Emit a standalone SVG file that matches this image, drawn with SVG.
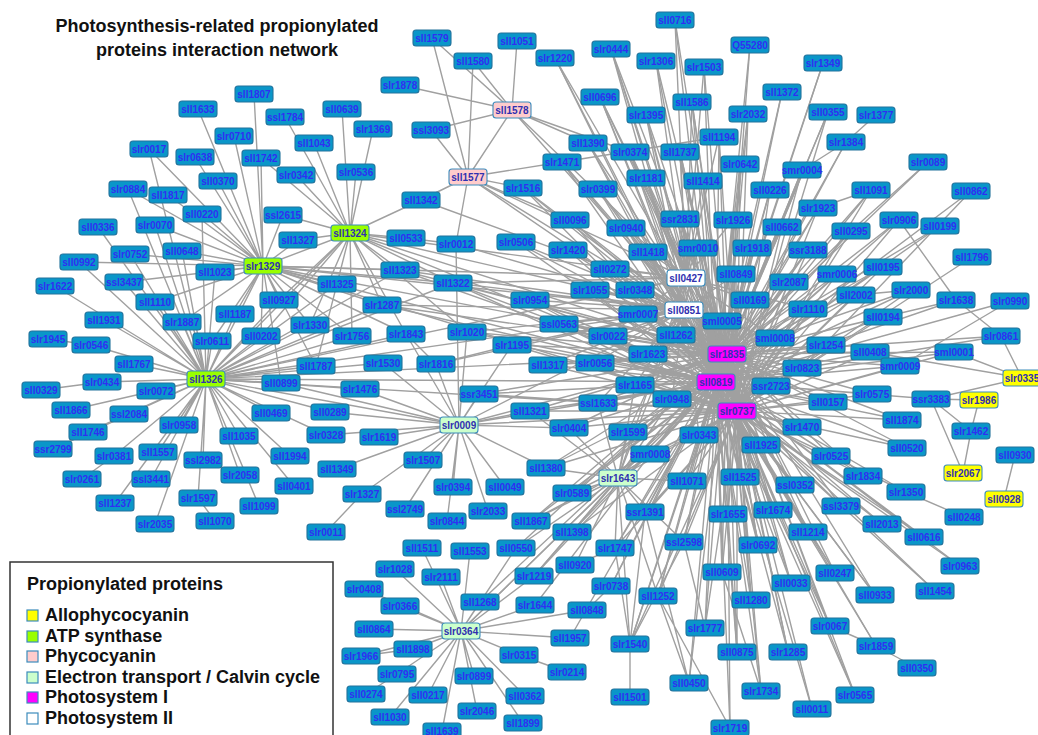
<svg xmlns="http://www.w3.org/2000/svg" width="1038" height="735" viewBox="0 0 1038 735">
<style>
.t{font:bold 18px "Liberation Sans",Arial,sans-serif;fill:#111}
#edges path{fill:none;stroke:#a0a0a0;stroke-width:1.4}
.n{fill:#0a96c9;stroke:#23739c;stroke-width:1.1}
.n text{font:bold 10px "Liberation Sans",Arial,sans-serif;fill:#2f2ff2;stroke:none;text-anchor:middle}
.k{stroke:#3c8cbc}
.k text{fill:#3030b0}
.y{fill:#ffff00}.g{fill:#99ff00}.p{fill:#ffcccc}.e{fill:#ccffcc}.m{fill:#ff00ff}.w{fill:#ffffff}
.lg{stroke:#3c8cbc;stroke-width:1.2}
</style>
<defs><rect id="b" x="-19" y="-8" width="38" height="16" rx="3"/></defs>
<rect width="1038" height="735" fill="#fff"/>
<g id="title" class="t" text-anchor="middle">
<text x="217" y="32">Photosynthesis-related propionylated</text>
<text x="217" y="56">proteins interaction network</text>
</g>
<g id="edges">
<path id="e-slr1835" d="M727 354L675 20M727 354L611 49M727 354L750 45M727 354L555 58M727 354L656 61M727 354L704 67M727 354L600 97M727 354L692 102M727 354L646 115M727 354L748 114M727 354L782 92M727 354L823 63M727 354L828 112M727 354L846 142M727 354L588 143M727 354L719 137M727 354L630 152M727 354L680 152M727 354L562 162M727 354L740 164M727 354L802 170M727 354L646 178M727 354L703 181M727 354L598 189M727 354L770 190M727 354L871 190M727 354L818 208M727 354L570 220M727 354L680 219M727 354L733 220M727 354L899 220M727 354L940 226M727 354L626 228M727 354L782 227M727 354L851 231M727 354L568 250M727 354L648 252M727 354L698 248M727 354L752 248M727 354L808 250M727 354L883 267M727 354L837 274M727 354L610 269M727 354L736 274M727 354L789 282M727 354L856 295M727 354L911 290M727 354L956 300M727 354L530 300M727 354L590 290M727 354L635 290M727 354L750 300M727 354L808 309M727 354L883 317M727 354L638 314M727 354L559 324M727 354L722 321M727 354L608 336M727 354L676 335M727 354L775 338M727 354L1001 336M727 354L512 345M727 354L826 345M727 354L648 354M727 354L870 352M727 354L954 352M727 354L548 365M727 354L595 363M727 354L802 368M727 354L900 366M727 354L635 385M727 354L771 386M727 354L872 394M727 354L672 399M727 354L598 403M727 354L828 402M727 354L530 411M727 354L902 420M727 354L569 428M727 354L628 432M727 354L802 427M727 354L699 435M727 354L761 445M727 354L907 448M727 354L650 454M727 354L831 456M727 354L546 468M727 354L687 481M727 354L740 477M727 354L863 476M727 354L795 485M727 354L572 493M727 354L841 506M727 354L773 510M727 354L645 512M727 354L728 514M727 354L531 521M727 354L572 532M727 354L808 532M727 354L684 542M727 354L758 545M727 354L615 548M727 354L722 572M727 354L835 573M727 354L791 583M727 354L611 586M727 354L875 595M727 354L658 596M727 354L751 600M727 354L830 626M727 354L705 628M727 354L630 644M727 354L737 652M727 354L788 652M727 354L689 683M727 354L761 691M727 354L855 695M727 354L730 728M727 354L523 188M727 354L453 283M727 354L400 270M727 354L382 305M727 354L467 332M727 354L479 394M727 354L928 162M727 354L535 605M727 354L534 576M727 354L516 548M727 354L516 242M727 354L716 382M727 354L737 411M727 354L686 278M727 354L684 310M727 354L206 379M727 354L263 266M727 354L350 233M727 354L468 177M727 354L512 110M727 354L459 425M727 354L618 478"/>
<path id="e-sll0819" d="M716 382L675 20M716 382L611 49M716 382L750 45M716 382L555 58M716 382L656 61M716 382L704 67M716 382L600 97M716 382L692 102M716 382L646 115M716 382L748 114M716 382L782 92M716 382L823 63M716 382L828 112M716 382L846 142M716 382L588 143M716 382L719 137M716 382L630 152M716 382L680 152M716 382L562 162M716 382L740 164M716 382L802 170M716 382L646 178M716 382L703 181M716 382L598 189M716 382L770 190M716 382L871 190M716 382L818 208M716 382L570 220M716 382L680 219M716 382L733 220M716 382L899 220M716 382L940 226M716 382L626 228M716 382L782 227M716 382L851 231M716 382L568 250M716 382L648 252M716 382L698 248M716 382L752 248M716 382L808 250M716 382L883 267M716 382L837 274M716 382L610 269M716 382L736 274M716 382L789 282M716 382L856 295M716 382L911 290M716 382L956 300M716 382L530 300M716 382L590 290M716 382L635 290M716 382L750 300M716 382L808 309M716 382L883 317M716 382L638 314M716 382L559 324M716 382L722 321M716 382L608 336M716 382L676 335M716 382L775 338M716 382L1001 336M716 382L512 345M716 382L826 345M716 382L648 354M716 382L870 352M716 382L954 352M716 382L548 365M716 382L595 363M716 382L802 368M716 382L900 366M716 382L635 385M716 382L771 386M716 382L872 394M716 382L672 399M716 382L598 403M716 382L828 402M716 382L530 411M716 382L902 420M716 382L569 428M716 382L628 432M716 382L802 427M716 382L699 435M716 382L761 445M716 382L907 448M716 382L650 454M716 382L831 456M716 382L546 468M716 382L687 481M716 382L740 477M716 382L863 476M716 382L795 485M716 382L572 493M716 382L841 506M716 382L773 510M716 382L645 512M716 382L728 514M716 382L531 521M716 382L882 524M716 382L572 532M716 382L808 532M716 382L924 537M716 382L684 542M716 382L758 545M716 382L615 548M716 382L960 566M716 382L722 572M716 382L835 573M716 382L791 583M716 382L611 586M716 382L935 591M716 382L875 595M716 382L658 596M716 382L751 600M716 382L830 626M716 382L705 628M716 382L630 644M716 382L876 646M716 382L737 652M716 382L788 652M716 382L689 683M716 382L761 691M716 382L855 695M716 382L812 709M716 382L730 728M716 382L523 188M716 382L453 283M716 382L400 270M716 382L382 305M716 382L467 332M716 382L479 394M716 382L971 191M716 382L1010 301M716 382L931 399M716 382L570 638M716 382L534 576M716 382L516 242M716 382L906 492M716 382L480 602M716 382L737 411M716 382L686 278M716 382L684 310M716 382L206 379M716 382L263 266M716 382L350 233M716 382L459 425M716 382L461 631M716 382L618 478"/>
<path id="e-slr0737" d="M737 411L692 102M737 411L748 114M737 411L828 112M737 411L719 137M737 411L680 152M737 411L740 164M737 411L802 170M737 411L703 181M737 411L770 190M737 411L871 190M737 411L818 208M737 411L680 219M737 411L733 220M737 411L899 220M737 411L782 227M737 411L851 231M737 411L698 248M737 411L752 248M737 411L808 250M737 411L883 267M737 411L837 274M737 411L736 274M737 411L789 282M737 411L856 295M737 411L911 290M737 411L530 300M737 411L590 290M737 411L635 290M737 411L750 300M737 411L808 309M737 411L883 317M737 411L638 314M737 411L559 324M737 411L722 321M737 411L608 336M737 411L676 335M737 411L775 338M737 411L512 345M737 411L826 345M737 411L648 354M737 411L870 352M737 411L954 352M737 411L548 365M737 411L595 363M737 411L802 368M737 411L900 366M737 411L635 385M737 411L771 386M737 411L872 394M737 411L672 399M737 411L598 403M737 411L828 402M737 411L530 411M737 411L902 420M737 411L569 428M737 411L628 432M737 411L802 427M737 411L699 435M737 411L761 445M737 411L907 448M737 411L650 454M737 411L831 456M737 411L546 468M737 411L687 481M737 411L740 477M737 411L863 476M737 411L795 485M737 411L572 493M737 411L841 506M737 411L773 510M737 411L645 512M737 411L728 514M737 411L531 521M737 411L882 524M737 411L572 532M737 411L808 532M737 411L924 537M737 411L684 542M737 411L758 545M737 411L615 548M737 411L960 566M737 411L722 572M737 411L835 573M737 411L791 583M737 411L935 591M737 411L875 595M737 411L658 596M737 411L751 600M737 411L830 626M737 411L705 628M737 411L630 644M737 411L876 646M737 411L737 652M737 411L788 652M737 411L761 691M737 411L855 695M737 411L812 709M737 411L453 283M737 411L479 394M737 411L906 492M737 411L686 278M737 411L684 310M737 411L206 379M737 411L263 266M737 411L459 425M737 411L618 478"/>
<path id="e-sll0427" d="M686 278L675 20M686 278L611 49M686 278L656 61M686 278L704 67M686 278L600 97M686 278L692 102M686 278L646 115M686 278L719 137M686 278L630 152M686 278L680 152M686 278L646 178M686 278L703 181M686 278L680 219M686 278L733 220M686 278L626 228M686 278L648 252M686 278L698 248M686 278L610 269M686 278L635 290M686 278L750 300M686 278L808 309M686 278L638 314M686 278L722 321M686 278L608 336M686 278L676 335M686 278L775 338M686 278L648 354M686 278L771 386M686 278L453 283M686 278L400 270M686 278L684 310M686 278L206 379M686 278L263 266M686 278L350 233M686 278L468 177M686 278L512 110M686 278L618 478"/>
<path id="e-sll0851" d="M684 310L611 49M684 310L555 58M684 310L600 97M684 310L646 115M684 310L588 143M684 310L630 152M684 310L562 162M684 310L646 178M684 310L598 189M684 310L570 220M684 310L626 228M684 310L568 250M684 310L648 252M684 310L698 248M684 310L610 269M684 310L736 274M684 310L530 300M684 310L590 290M684 310L635 290M684 310L638 314M684 310L559 324M684 310L722 321M684 310L608 336M684 310L676 335M684 310L775 338M684 310L512 345M684 310L648 354M684 310L548 365M684 310L595 363M684 310L635 385M684 310L672 399M684 310L598 403M684 310L628 432M684 310L699 435M684 310L523 188M684 310L453 283M684 310L400 270M684 310L382 305M684 310L467 332M684 310L436 364M684 310L516 242M684 310L456 244M684 310L206 379M684 310L263 266M684 310L350 233M684 310L468 177M684 310L459 425M684 310L618 478"/>
<path id="e-sll1326" d="M206 379L79 262M206 379L55 286M206 379L104 320M206 379L91 345M206 379L134 364M206 379L102 382M206 379L156 391M206 379L71 410M206 379L129 414M206 379L88 432M206 379L53 449M206 379L179 425M206 379L114 456M206 379L158 452M206 379L151 479M206 379L203 460M206 379L115 503M206 379L155 524M206 379L198 498M206 379L240 475M206 379L239 436M206 379L259 506M206 379L271 413M206 379L212 341M206 379L182 322M206 379L155 302M206 379L124 282M206 379L130 254M206 379L182 251M206 379L235 314M206 379L215 272M206 379L261 336M206 379L279 300M206 379L310 325M206 379L281 383M206 379L316 366M206 379L290 456M206 379L326 435M206 379L330 412M206 379L360 389M206 379L352 336M206 379L337 284M206 379L400 270M206 379L453 283M206 379L382 305M206 379L98 227M206 379L155 225M206 379L202 214M206 379L149 149M206 379L128 189M206 379L263 266M206 379L350 233M206 379L459 425M206 379L383 363M206 379L406 334M206 379L294 486M48 339L91 345M41 390L102 382M82 479L114 456M215 521L198 498"/>
<path id="e-slr1329" d="M263 266L198 109M263 266L254 94M263 266L234 136M263 266L149 149M263 266L195 157M263 266L261 158M263 266L218 181M263 266L128 189M263 266L168 195M263 266L202 214M263 266L155 225M263 266L215 272M263 266L182 251M263 266L130 254M263 266L155 302M263 266L79 262M263 266L235 314M263 266L279 300M263 266L261 336M263 266L298 240M263 266L283 215M263 266L337 284M263 266L400 270M263 266L453 283M263 266L310 325M263 266L382 305M263 266L316 366M263 266L281 383M263 266L212 341M263 266L182 322M263 266L124 282M263 266L350 233M263 266L352 336M263 266L406 334"/>
<path id="e-sll1324" d="M350 233L285 117M350 233L314 143M350 233L342 109M350 233L373 129M350 233L356 172M350 233L296 175M350 233L283 215M350 233L421 200M350 233L298 240M350 233L261 158M350 233L337 284M350 233L400 270M350 233L453 283M350 233L382 305M350 233L310 325M350 233L352 336M350 233L279 300M350 233L261 336M350 233L316 366M350 233L406 238M350 233L406 334M350 233L467 332"/>
<path id="e-phyco" d="M468 177L432 38M468 177L473 61M468 177L431 130M468 177L512 110M468 177L421 200M468 177L456 244M468 177L523 188M468 177L562 162M468 177L570 220M512 110L432 38M512 110L473 61M512 110L517 41M512 110L400 85M512 110L431 130M512 110L588 143M512 110L630 152M406 238L456 244M421 200L610 269M456 244L459 425"/>
<path id="e-slr0009" d="M459 425L383 363M459 425L360 389M459 425L330 412M459 425L379 437M459 425L423 460M459 425L453 487M459 425L505 487M459 425L467 332M459 425L479 394M459 425L337 469M459 425L362 494M459 425L405 509M459 425L447 521M459 425L488 511M459 425L281 383M459 425L406 334M459 425L530 411M459 425L512 345M459 425L569 428M459 425L546 468M459 425L326 435M459 425L436 364M326 532L362 494M436 364L406 334M436 364L512 345"/>
<path id="e-slr0364" d="M461 631L422 548M461 631L470 551M461 631L516 548M461 631L395 569M461 631L441 577M461 631L364 589M461 631L400 606M461 631L480 602M461 631L374 629M461 631L361 656M461 631L413 649M461 631L397 674M461 631L474 676M461 631L428 695M461 631L477 711M461 631L390 717M461 631L442 731M461 631L519 655M461 631L525 696M461 631L523 723M461 631L534 576M461 631L535 605M461 631L570 638M461 631L587 610M461 631L618 478M361 656L413 649M366 694L397 674M519 655L567 672M587 610L611 586"/>
<path id="e-slr1643" d="M618 478L546 468M618 478L531 521M618 478L572 493M618 478L572 532M618 478L569 428M618 478L628 432M618 478L650 454M618 478L645 512M618 478L615 548M618 478L575 565M618 478L516 548M618 478L534 576M618 478L598 403M618 478L635 385M618 478L530 411M618 478L684 542M618 478L658 596M618 478L630 644M618 478L672 399M618 478L687 481"/>
<path id="e-misc" d="M575 565L615 548M615 548L630 644M630 697L630 644M630 644L645 512M630 644L684 542M689 683L658 596M689 683L645 512M730 728L658 596M705 628L684 542M737 652L728 514M761 691L722 572M876 115L846 142M846 142L802 170M928 162L851 231M971 191L802 368M871 190L818 208M899 220L956 300M956 300L1001 336M1001 336L1022 378M954 352L1022 378M1022 378L870 352M931 399L1022 378M931 399L979 400M931 399L971 431M931 399L963 473M979 400L971 431M971 431L963 473M1015 455L1004 499M906 492L964 517M1010 301L900 366M972 257L802 368M911 290L856 295M830 626L876 646M876 646L917 668M562 162L719 137"/>
</g>
<g id="nodes">
<g id="n-sll1633" class="n" transform="translate(198 109)"><use href="#b"/><text y="3.5">sll1633</text></g>
<g id="n-sll1807" class="n" transform="translate(254 94)"><use href="#b"/><text y="3.5">sll1807</text></g>
<g id="n-slr0710" class="n" transform="translate(234 136)"><use href="#b"/><text y="3.5">slr0710</text></g>
<g id="n-slr0017" class="n" transform="translate(149 149)"><use href="#b"/><text y="3.5">slr0017</text></g>
<g id="n-slr0638" class="n" transform="translate(195 157)"><use href="#b"/><text y="3.5">slr0638</text></g>
<g id="n-sll1742" class="n" transform="translate(261 158)"><use href="#b"/><text y="3.5">sll1742</text></g>
<g id="n-sll0370" class="n" transform="translate(218 181)"><use href="#b"/><text y="3.5">sll0370</text></g>
<g id="n-slr0884" class="n" transform="translate(128 189)"><use href="#b"/><text y="3.5">slr0884</text></g>
<g id="n-sll1817" class="n" transform="translate(168 195)"><use href="#b"/><text y="3.5">sll1817</text></g>
<g id="n-sll0220" class="n" transform="translate(202 214)"><use href="#b"/><text y="3.5">sll0220</text></g>
<g id="n-sll0336" class="n" transform="translate(98 227)"><use href="#b"/><text y="3.5">sll0336</text></g>
<g id="n-slr0070" class="n" transform="translate(155 225)"><use href="#b"/><text y="3.5">slr0070</text></g>
<g id="n-ssl1784" class="n" transform="translate(285 117)"><use href="#b"/><text y="3.5">ssl1784</text></g>
<g id="n-sll0639" class="n" transform="translate(342 109)"><use href="#b"/><text y="3.5">sll0639</text></g>
<g id="n-slr1369" class="n" transform="translate(373 129)"><use href="#b"/><text y="3.5">slr1369</text></g>
<g id="n-sll1043" class="n" transform="translate(314 143)"><use href="#b"/><text y="3.5">sll1043</text></g>
<g id="n-slr0342" class="n" transform="translate(296 175)"><use href="#b"/><text y="3.5">slr0342</text></g>
<g id="n-slr0536" class="n" transform="translate(356 172)"><use href="#b"/><text y="3.5">slr0536</text></g>
<g id="n-ssl2615" class="n" transform="translate(283 215)"><use href="#b"/><text y="3.5">ssl2615</text></g>
<g id="n-sll1327" class="n" transform="translate(298 240)"><use href="#b"/><text y="3.5">sll1327</text></g>
<g id="n-sll1324" class="n k g" transform="translate(350 233)"><use href="#b"/><text y="3.5">sll1324</text></g>
<g id="n-slr1329" class="n k g" transform="translate(263 266)"><use href="#b"/><text y="3.5">slr1329</text></g>
<g id="n-slr0752" class="n" transform="translate(130 254)"><use href="#b"/><text y="3.5">slr0752</text></g>
<g id="n-sll0648" class="n" transform="translate(182 251)"><use href="#b"/><text y="3.5">sll0648</text></g>
<g id="n-sll0992" class="n" transform="translate(79 262)"><use href="#b"/><text y="3.5">sll0992</text></g>
<g id="n-ssl3437" class="n" transform="translate(124 282)"><use href="#b"/><text y="3.5">ssl3437</text></g>
<g id="n-sll1023" class="n" transform="translate(215 272)"><use href="#b"/><text y="3.5">sll1023</text></g>
<g id="n-slr1622" class="n" transform="translate(55 286)"><use href="#b"/><text y="3.5">slr1622</text></g>
<g id="n-sll1110" class="n" transform="translate(155 302)"><use href="#b"/><text y="3.5">sll1110</text></g>
<g id="n-sll1931" class="n" transform="translate(104 320)"><use href="#b"/><text y="3.5">sll1931</text></g>
<g id="n-slr1887" class="n" transform="translate(182 322)"><use href="#b"/><text y="3.5">slr1887</text></g>
<g id="n-sll1187" class="n" transform="translate(235 314)"><use href="#b"/><text y="3.5">sll1187</text></g>
<g id="n-slr1945" class="n" transform="translate(48 339)"><use href="#b"/><text y="3.5">slr1945</text></g>
<g id="n-slr0546" class="n" transform="translate(91 345)"><use href="#b"/><text y="3.5">slr0546</text></g>
<g id="n-slr0611" class="n" transform="translate(212 341)"><use href="#b"/><text y="3.5">slr0611</text></g>
<g id="n-sll0202" class="n" transform="translate(261 336)"><use href="#b"/><text y="3.5">sll0202</text></g>
<g id="n-sll1767" class="n" transform="translate(134 364)"><use href="#b"/><text y="3.5">sll1767</text></g>
<g id="n-sll1326" class="n k g" transform="translate(206 379)"><use href="#b"/><text y="3.5">sll1326</text></g>
<g id="n-slr0434" class="n" transform="translate(102 382)"><use href="#b"/><text y="3.5">slr0434</text></g>
<g id="n-sll0329" class="n" transform="translate(41 390)"><use href="#b"/><text y="3.5">sll0329</text></g>
<g id="n-slr0072" class="n" transform="translate(156 391)"><use href="#b"/><text y="3.5">slr0072</text></g>
<g id="n-sll1866" class="n" transform="translate(71 410)"><use href="#b"/><text y="3.5">sll1866</text></g>
<g id="n-ssl2084" class="n" transform="translate(129 414)"><use href="#b"/><text y="3.5">ssl2084</text></g>
<g id="n-sll0469" class="n" transform="translate(271 413)"><use href="#b"/><text y="3.5">sll0469</text></g>
<g id="n-sll1746" class="n" transform="translate(88 432)"><use href="#b"/><text y="3.5">sll1746</text></g>
<g id="n-slr0958" class="n" transform="translate(179 425)"><use href="#b"/><text y="3.5">slr0958</text></g>
<g id="n-sll1035" class="n" transform="translate(239 436)"><use href="#b"/><text y="3.5">sll1035</text></g>
<g id="n-ssr2799" class="n" transform="translate(53 449)"><use href="#b"/><text y="3.5">ssr2799</text></g>
<g id="n-slr0381" class="n" transform="translate(114 456)"><use href="#b"/><text y="3.5">slr0381</text></g>
<g id="n-sll1557" class="n" transform="translate(158 452)"><use href="#b"/><text y="3.5">sll1557</text></g>
<g id="n-ssl2982" class="n" transform="translate(203 460)"><use href="#b"/><text y="3.5">ssl2982</text></g>
<g id="n-slr2058" class="n" transform="translate(240 475)"><use href="#b"/><text y="3.5">slr2058</text></g>
<g id="n-slr0261" class="n" transform="translate(82 479)"><use href="#b"/><text y="3.5">slr0261</text></g>
<g id="n-ssl3441" class="n" transform="translate(151 479)"><use href="#b"/><text y="3.5">ssl3441</text></g>
<g id="n-sll1237" class="n" transform="translate(115 503)"><use href="#b"/><text y="3.5">sll1237</text></g>
<g id="n-slr2035" class="n" transform="translate(155 524)"><use href="#b"/><text y="3.5">slr2035</text></g>
<g id="n-slr1597" class="n" transform="translate(198 498)"><use href="#b"/><text y="3.5">slr1597</text></g>
<g id="n-sll1070" class="n" transform="translate(215 521)"><use href="#b"/><text y="3.5">sll1070</text></g>
<g id="n-sll1099" class="n" transform="translate(259 506)"><use href="#b"/><text y="3.5">sll1099</text></g>
<g id="n-sll0927" class="n" transform="translate(279 300)"><use href="#b"/><text y="3.5">sll0927</text></g>
<g id="n-sll1325" class="n" transform="translate(337 284)"><use href="#b"/><text y="3.5">sll1325</text></g>
<g id="n-sll1323" class="n" transform="translate(400 270)"><use href="#b"/><text y="3.5">sll1323</text></g>
<g id="n-sll1322" class="n" transform="translate(453 283)"><use href="#b"/><text y="3.5">sll1322</text></g>
<g id="n-slr1287" class="n" transform="translate(382 305)"><use href="#b"/><text y="3.5">slr1287</text></g>
<g id="n-slr1330" class="n" transform="translate(310 325)"><use href="#b"/><text y="3.5">slr1330</text></g>
<g id="n-slr1756" class="n" transform="translate(352 336)"><use href="#b"/><text y="3.5">slr1756</text></g>
<g id="n-slr1843" class="n" transform="translate(406 334)"><use href="#b"/><text y="3.5">slr1843</text></g>
<g id="n-slr1020" class="n" transform="translate(467 332)"><use href="#b"/><text y="3.5">slr1020</text></g>
<g id="n-sll1787" class="n" transform="translate(316 366)"><use href="#b"/><text y="3.5">sll1787</text></g>
<g id="n-slr1530" class="n" transform="translate(383 363)"><use href="#b"/><text y="3.5">slr1530</text></g>
<g id="n-slr1816" class="n" transform="translate(436 364)"><use href="#b"/><text y="3.5">slr1816</text></g>
<g id="n-sll0899" class="n" transform="translate(281 383)"><use href="#b"/><text y="3.5">sll0899</text></g>
<g id="n-slr1476" class="n" transform="translate(360 389)"><use href="#b"/><text y="3.5">slr1476</text></g>
<g id="n-ssr3451" class="n" transform="translate(479 394)"><use href="#b"/><text y="3.5">ssr3451</text></g>
<g id="n-sll0289" class="n" transform="translate(330 412)"><use href="#b"/><text y="3.5">sll0289</text></g>
<g id="n-slr0009" class="n k e" transform="translate(459 425)"><use href="#b"/><text y="3.5">slr0009</text></g>
<g id="n-slr0328" class="n" transform="translate(326 435)"><use href="#b"/><text y="3.5">slr0328</text></g>
<g id="n-slr1619" class="n" transform="translate(379 437)"><use href="#b"/><text y="3.5">slr1619</text></g>
<g id="n-sll1994" class="n" transform="translate(290 456)"><use href="#b"/><text y="3.5">sll1994</text></g>
<g id="n-slr1507" class="n" transform="translate(423 460)"><use href="#b"/><text y="3.5">slr1507</text></g>
<g id="n-sll1349" class="n" transform="translate(337 469)"><use href="#b"/><text y="3.5">sll1349</text></g>
<g id="n-sll0401" class="n" transform="translate(294 486)"><use href="#b"/><text y="3.5">sll0401</text></g>
<g id="n-slr1327" class="n" transform="translate(362 494)"><use href="#b"/><text y="3.5">slr1327</text></g>
<g id="n-slr0394" class="n" transform="translate(453 487)"><use href="#b"/><text y="3.5">slr0394</text></g>
<g id="n-sll0049" class="n" transform="translate(505 487)"><use href="#b"/><text y="3.5">sll0049</text></g>
<g id="n-ssl2749" class="n" transform="translate(405 509)"><use href="#b"/><text y="3.5">ssl2749</text></g>
<g id="n-slr0844" class="n" transform="translate(447 521)"><use href="#b"/><text y="3.5">slr0844</text></g>
<g id="n-slr2033" class="n" transform="translate(488 511)"><use href="#b"/><text y="3.5">slr2033</text></g>
<g id="n-slr0011" class="n" transform="translate(326 532)"><use href="#b"/><text y="3.5">slr0011</text></g>
<g id="n-sll1579" class="n" transform="translate(432 38)"><use href="#b"/><text y="3.5">sll1579</text></g>
<g id="n-sll1051" class="n" transform="translate(517 41)"><use href="#b"/><text y="3.5">sll1051</text></g>
<g id="n-sll1580" class="n" transform="translate(473 61)"><use href="#b"/><text y="3.5">sll1580</text></g>
<g id="n-slr1878" class="n" transform="translate(400 85)"><use href="#b"/><text y="3.5">slr1878</text></g>
<g id="n-sll1578" class="n k p" transform="translate(512 110)"><use href="#b"/><text y="3.5">sll1578</text></g>
<g id="n-ssl3093" class="n" transform="translate(431 130)"><use href="#b"/><text y="3.5">ssl3093</text></g>
<g id="n-sll1577" class="n k p" transform="translate(468 177)"><use href="#b"/><text y="3.5">sll1577</text></g>
<g id="n-sll1342" class="n" transform="translate(421 200)"><use href="#b"/><text y="3.5">sll1342</text></g>
<g id="n-sll0533" class="n" transform="translate(406 238)"><use href="#b"/><text y="3.5">sll0533</text></g>
<g id="n-slr0012" class="n" transform="translate(456 244)"><use href="#b"/><text y="3.5">slr0012</text></g>
<g id="n-slr0506" class="n" transform="translate(516 242)"><use href="#b"/><text y="3.5">slr0506</text></g>
<g id="n-slr1516" class="n" transform="translate(523 188)"><use href="#b"/><text y="3.5">slr1516</text></g>
<g id="n-sll0716" class="n" transform="translate(675 20)"><use href="#b"/><text y="3.5">sll0716</text></g>
<g id="n-slr0444" class="n" transform="translate(611 49)"><use href="#b"/><text y="3.5">slr0444</text></g>
<g id="n-Q55280" class="n" transform="translate(750 45)"><use href="#b"/><text y="3.5">Q55280</text></g>
<g id="n-slr1220" class="n" transform="translate(555 58)"><use href="#b"/><text y="3.5">slr1220</text></g>
<g id="n-slr1306" class="n" transform="translate(656 61)"><use href="#b"/><text y="3.5">slr1306</text></g>
<g id="n-slr1503" class="n" transform="translate(704 67)"><use href="#b"/><text y="3.5">slr1503</text></g>
<g id="n-sll0696" class="n" transform="translate(600 97)"><use href="#b"/><text y="3.5">sll0696</text></g>
<g id="n-sll1586" class="n" transform="translate(692 102)"><use href="#b"/><text y="3.5">sll1586</text></g>
<g id="n-slr1395" class="n" transform="translate(646 115)"><use href="#b"/><text y="3.5">slr1395</text></g>
<g id="n-slr2032" class="n" transform="translate(748 114)"><use href="#b"/><text y="3.5">slr2032</text></g>
<g id="n-sll1372" class="n" transform="translate(782 92)"><use href="#b"/><text y="3.5">sll1372</text></g>
<g id="n-slr1349" class="n" transform="translate(823 63)"><use href="#b"/><text y="3.5">slr1349</text></g>
<g id="n-sll0355" class="n" transform="translate(828 112)"><use href="#b"/><text y="3.5">sll0355</text></g>
<g id="n-slr1377" class="n" transform="translate(876 115)"><use href="#b"/><text y="3.5">slr1377</text></g>
<g id="n-slr1384" class="n" transform="translate(846 142)"><use href="#b"/><text y="3.5">slr1384</text></g>
<g id="n-sll1390" class="n" transform="translate(588 143)"><use href="#b"/><text y="3.5">sll1390</text></g>
<g id="n-sll1194" class="n" transform="translate(719 137)"><use href="#b"/><text y="3.5">sll1194</text></g>
<g id="n-slr0374" class="n" transform="translate(630 152)"><use href="#b"/><text y="3.5">slr0374</text></g>
<g id="n-sll1737" class="n" transform="translate(680 152)"><use href="#b"/><text y="3.5">sll1737</text></g>
<g id="n-slr1471" class="n" transform="translate(562 162)"><use href="#b"/><text y="3.5">slr1471</text></g>
<g id="n-slr0642" class="n" transform="translate(740 164)"><use href="#b"/><text y="3.5">slr0642</text></g>
<g id="n-smr0004" class="n" transform="translate(802 170)"><use href="#b"/><text y="3.5">smr0004</text></g>
<g id="n-slr0089" class="n" transform="translate(928 162)"><use href="#b"/><text y="3.5">slr0089</text></g>
<g id="n-slr1181" class="n" transform="translate(646 178)"><use href="#b"/><text y="3.5">slr1181</text></g>
<g id="n-sll1414" class="n" transform="translate(703 181)"><use href="#b"/><text y="3.5">sll1414</text></g>
<g id="n-slr0399" class="n" transform="translate(598 189)"><use href="#b"/><text y="3.5">slr0399</text></g>
<g id="n-sll0226" class="n" transform="translate(770 190)"><use href="#b"/><text y="3.5">sll0226</text></g>
<g id="n-sll1091" class="n" transform="translate(871 190)"><use href="#b"/><text y="3.5">sll1091</text></g>
<g id="n-sll0862" class="n" transform="translate(971 191)"><use href="#b"/><text y="3.5">sll0862</text></g>
<g id="n-slr1923" class="n" transform="translate(818 208)"><use href="#b"/><text y="3.5">slr1923</text></g>
<g id="n-sll0096" class="n" transform="translate(570 220)"><use href="#b"/><text y="3.5">sll0096</text></g>
<g id="n-ssr2831" class="n" transform="translate(680 219)"><use href="#b"/><text y="3.5">ssr2831</text></g>
<g id="n-slr1926" class="n" transform="translate(733 220)"><use href="#b"/><text y="3.5">slr1926</text></g>
<g id="n-slr0906" class="n" transform="translate(899 220)"><use href="#b"/><text y="3.5">slr0906</text></g>
<g id="n-sll0199" class="n" transform="translate(940 226)"><use href="#b"/><text y="3.5">sll0199</text></g>
<g id="n-slr0940" class="n" transform="translate(626 228)"><use href="#b"/><text y="3.5">slr0940</text></g>
<g id="n-sll0662" class="n" transform="translate(782 227)"><use href="#b"/><text y="3.5">sll0662</text></g>
<g id="n-sll0295" class="n" transform="translate(851 231)"><use href="#b"/><text y="3.5">sll0295</text></g>
<g id="n-slr1420" class="n" transform="translate(568 250)"><use href="#b"/><text y="3.5">slr1420</text></g>
<g id="n-sll1418" class="n" transform="translate(648 252)"><use href="#b"/><text y="3.5">sll1418</text></g>
<g id="n-smr0010" class="n" transform="translate(698 248)"><use href="#b"/><text y="3.5">smr0010</text></g>
<g id="n-slr1918" class="n" transform="translate(752 248)"><use href="#b"/><text y="3.5">slr1918</text></g>
<g id="n-ssr3188" class="n" transform="translate(808 250)"><use href="#b"/><text y="3.5">ssr3188</text></g>
<g id="n-sll1796" class="n" transform="translate(972 257)"><use href="#b"/><text y="3.5">sll1796</text></g>
<g id="n-sll0195" class="n" transform="translate(883 267)"><use href="#b"/><text y="3.5">sll0195</text></g>
<g id="n-smr0006" class="n" transform="translate(837 274)"><use href="#b"/><text y="3.5">smr0006</text></g>
<g id="n-sll0272" class="n" transform="translate(610 269)"><use href="#b"/><text y="3.5">sll0272</text></g>
<g id="n-sll0849" class="n" transform="translate(736 274)"><use href="#b"/><text y="3.5">sll0849</text></g>
<g id="n-slr2087" class="n" transform="translate(789 282)"><use href="#b"/><text y="3.5">slr2087</text></g>
<g id="n-sll2002" class="n" transform="translate(856 295)"><use href="#b"/><text y="3.5">sll2002</text></g>
<g id="n-slr2000" class="n" transform="translate(911 290)"><use href="#b"/><text y="3.5">slr2000</text></g>
<g id="n-slr1638" class="n" transform="translate(956 300)"><use href="#b"/><text y="3.5">slr1638</text></g>
<g id="n-slr0990" class="n" transform="translate(1010 301)"><use href="#b"/><text y="3.5">slr0990</text></g>
<g id="n-slr0954" class="n" transform="translate(530 300)"><use href="#b"/><text y="3.5">slr0954</text></g>
<g id="n-slr1055" class="n" transform="translate(590 290)"><use href="#b"/><text y="3.5">slr1055</text></g>
<g id="n-slr0348" class="n" transform="translate(635 290)"><use href="#b"/><text y="3.5">slr0348</text></g>
<g id="n-sll0169" class="n" transform="translate(750 300)"><use href="#b"/><text y="3.5">sll0169</text></g>
<g id="n-slr1110" class="n" transform="translate(808 309)"><use href="#b"/><text y="3.5">slr1110</text></g>
<g id="n-sll0194" class="n" transform="translate(883 317)"><use href="#b"/><text y="3.5">sll0194</text></g>
<g id="n-smr0007" class="n" transform="translate(638 314)"><use href="#b"/><text y="3.5">smr0007</text></g>
<g id="n-ssl0563" class="n" transform="translate(559 324)"><use href="#b"/><text y="3.5">ssl0563</text></g>
<g id="n-sml0005" class="n" transform="translate(722 321)"><use href="#b"/><text y="3.5">sml0005</text></g>
<g id="n-slr0022" class="n" transform="translate(608 336)"><use href="#b"/><text y="3.5">slr0022</text></g>
<g id="n-sll1262" class="n" transform="translate(676 335)"><use href="#b"/><text y="3.5">sll1262</text></g>
<g id="n-sml0008" class="n" transform="translate(775 338)"><use href="#b"/><text y="3.5">sml0008</text></g>
<g id="n-slr0861" class="n" transform="translate(1001 336)"><use href="#b"/><text y="3.5">slr0861</text></g>
<g id="n-slr1195" class="n" transform="translate(512 345)"><use href="#b"/><text y="3.5">slr1195</text></g>
<g id="n-slr1254" class="n" transform="translate(826 345)"><use href="#b"/><text y="3.5">slr1254</text></g>
<g id="n-slr1623" class="n" transform="translate(648 354)"><use href="#b"/><text y="3.5">slr1623</text></g>
<g id="n-sll0408" class="n" transform="translate(870 352)"><use href="#b"/><text y="3.5">sll0408</text></g>
<g id="n-sml0001" class="n" transform="translate(954 352)"><use href="#b"/><text y="3.5">sml0001</text></g>
<g id="n-sll1317" class="n" transform="translate(548 365)"><use href="#b"/><text y="3.5">sll1317</text></g>
<g id="n-slr0056" class="n" transform="translate(595 363)"><use href="#b"/><text y="3.5">slr0056</text></g>
<g id="n-slr0823" class="n" transform="translate(802 368)"><use href="#b"/><text y="3.5">slr0823</text></g>
<g id="n-smr0009" class="n" transform="translate(900 366)"><use href="#b"/><text y="3.5">smr0009</text></g>
<g id="n-slr1165" class="n" transform="translate(635 385)"><use href="#b"/><text y="3.5">slr1165</text></g>
<g id="n-ssr2723" class="n" transform="translate(771 386)"><use href="#b"/><text y="3.5">ssr2723</text></g>
<g id="n-slr0575" class="n" transform="translate(872 394)"><use href="#b"/><text y="3.5">slr0575</text></g>
<g id="n-ssr3383" class="n" transform="translate(931 399)"><use href="#b"/><text y="3.5">ssr3383</text></g>
<g id="n-slr0948" class="n" transform="translate(672 399)"><use href="#b"/><text y="3.5">slr0948</text></g>
<g id="n-ssl1633" class="n" transform="translate(598 403)"><use href="#b"/><text y="3.5">ssl1633</text></g>
<g id="n-sll0157" class="n" transform="translate(828 402)"><use href="#b"/><text y="3.5">sll0157</text></g>
<g id="n-sll1321" class="n" transform="translate(530 411)"><use href="#b"/><text y="3.5">sll1321</text></g>
<g id="n-sll1874" class="n" transform="translate(902 420)"><use href="#b"/><text y="3.5">sll1874</text></g>
<g id="n-slr0404" class="n" transform="translate(569 428)"><use href="#b"/><text y="3.5">slr0404</text></g>
<g id="n-slr1599" class="n" transform="translate(628 432)"><use href="#b"/><text y="3.5">slr1599</text></g>
<g id="n-slr1470" class="n" transform="translate(802 427)"><use href="#b"/><text y="3.5">slr1470</text></g>
<g id="n-slr1462" class="n" transform="translate(971 431)"><use href="#b"/><text y="3.5">slr1462</text></g>
<g id="n-slr0343" class="n" transform="translate(699 435)"><use href="#b"/><text y="3.5">slr0343</text></g>
<g id="n-sll1925" class="n" transform="translate(761 445)"><use href="#b"/><text y="3.5">sll1925</text></g>
<g id="n-sll0520" class="n" transform="translate(907 448)"><use href="#b"/><text y="3.5">sll0520</text></g>
<g id="n-smr0008" class="n" transform="translate(650 454)"><use href="#b"/><text y="3.5">smr0008</text></g>
<g id="n-slr0525" class="n" transform="translate(831 456)"><use href="#b"/><text y="3.5">slr0525</text></g>
<g id="n-sll0930" class="n" transform="translate(1015 455)"><use href="#b"/><text y="3.5">sll0930</text></g>
<g id="n-sll1380" class="n" transform="translate(546 468)"><use href="#b"/><text y="3.5">sll1380</text></g>
<g id="n-sll1071" class="n" transform="translate(687 481)"><use href="#b"/><text y="3.5">sll1071</text></g>
<g id="n-sll1525" class="n" transform="translate(740 477)"><use href="#b"/><text y="3.5">sll1525</text></g>
<g id="n-slr1834" class="n" transform="translate(863 476)"><use href="#b"/><text y="3.5">slr1834</text></g>
<g id="n-ssl0352" class="n" transform="translate(795 485)"><use href="#b"/><text y="3.5">ssl0352</text></g>
<g id="n-slr1350" class="n" transform="translate(906 492)"><use href="#b"/><text y="3.5">slr1350</text></g>
<g id="n-slr0589" class="n" transform="translate(572 493)"><use href="#b"/><text y="3.5">slr0589</text></g>
<g id="n-ssl3379" class="n" transform="translate(841 506)"><use href="#b"/><text y="3.5">ssl3379</text></g>
<g id="n-slr1674" class="n" transform="translate(773 510)"><use href="#b"/><text y="3.5">slr1674</text></g>
<g id="n-ssr1391" class="n" transform="translate(645 512)"><use href="#b"/><text y="3.5">ssr1391</text></g>
<g id="n-slr1655" class="n" transform="translate(728 514)"><use href="#b"/><text y="3.5">slr1655</text></g>
<g id="n-sll0248" class="n" transform="translate(964 517)"><use href="#b"/><text y="3.5">sll0248</text></g>
<g id="n-sll1867" class="n" transform="translate(531 521)"><use href="#b"/><text y="3.5">sll1867</text></g>
<g id="n-sll2013" class="n" transform="translate(882 524)"><use href="#b"/><text y="3.5">sll2013</text></g>
<g id="n-sll1398" class="n" transform="translate(572 532)"><use href="#b"/><text y="3.5">sll1398</text></g>
<g id="n-sll1214" class="n" transform="translate(808 532)"><use href="#b"/><text y="3.5">sll1214</text></g>
<g id="n-sll0616" class="n" transform="translate(924 537)"><use href="#b"/><text y="3.5">sll0616</text></g>
<g id="n-ssl2598" class="n" transform="translate(684 542)"><use href="#b"/><text y="3.5">ssl2598</text></g>
<g id="n-slr0692" class="n" transform="translate(758 545)"><use href="#b"/><text y="3.5">slr0692</text></g>
<g id="n-sll0550" class="n" transform="translate(516 548)"><use href="#b"/><text y="3.5">sll0550</text></g>
<g id="n-slr1747" class="n" transform="translate(615 548)"><use href="#b"/><text y="3.5">slr1747</text></g>
<g id="n-sll0920" class="n" transform="translate(575 565)"><use href="#b"/><text y="3.5">sll0920</text></g>
<g id="n-slr0963" class="n" transform="translate(960 566)"><use href="#b"/><text y="3.5">slr0963</text></g>
<g id="n-sll0609" class="n" transform="translate(722 572)"><use href="#b"/><text y="3.5">sll0609</text></g>
<g id="n-sll0247" class="n" transform="translate(835 573)"><use href="#b"/><text y="3.5">sll0247</text></g>
<g id="n-slr1219" class="n" transform="translate(534 576)"><use href="#b"/><text y="3.5">slr1219</text></g>
<g id="n-sll0033" class="n" transform="translate(791 583)"><use href="#b"/><text y="3.5">sll0033</text></g>
<g id="n-slr0738" class="n" transform="translate(611 586)"><use href="#b"/><text y="3.5">slr0738</text></g>
<g id="n-sll1454" class="n" transform="translate(935 591)"><use href="#b"/><text y="3.5">sll1454</text></g>
<g id="n-sll0933" class="n" transform="translate(875 595)"><use href="#b"/><text y="3.5">sll0933</text></g>
<g id="n-sll1252" class="n" transform="translate(658 596)"><use href="#b"/><text y="3.5">sll1252</text></g>
<g id="n-sll1280" class="n" transform="translate(751 600)"><use href="#b"/><text y="3.5">sll1280</text></g>
<g id="n-slr1644" class="n" transform="translate(535 605)"><use href="#b"/><text y="3.5">slr1644</text></g>
<g id="n-sll0848" class="n" transform="translate(587 610)"><use href="#b"/><text y="3.5">sll0848</text></g>
<g id="n-slr0067" class="n" transform="translate(830 626)"><use href="#b"/><text y="3.5">slr0067</text></g>
<g id="n-slr1777" class="n" transform="translate(705 628)"><use href="#b"/><text y="3.5">slr1777</text></g>
<g id="n-sll1957" class="n" transform="translate(570 638)"><use href="#b"/><text y="3.5">sll1957</text></g>
<g id="n-slr1540" class="n" transform="translate(630 644)"><use href="#b"/><text y="3.5">slr1540</text></g>
<g id="n-slr1859" class="n" transform="translate(876 646)"><use href="#b"/><text y="3.5">slr1859</text></g>
<g id="n-sll0875" class="n" transform="translate(737 652)"><use href="#b"/><text y="3.5">sll0875</text></g>
<g id="n-slr1285" class="n" transform="translate(788 652)"><use href="#b"/><text y="3.5">slr1285</text></g>
<g id="n-slr0315" class="n" transform="translate(519 655)"><use href="#b"/><text y="3.5">slr0315</text></g>
<g id="n-sll0350" class="n" transform="translate(917 668)"><use href="#b"/><text y="3.5">sll0350</text></g>
<g id="n-slr0214" class="n" transform="translate(567 672)"><use href="#b"/><text y="3.5">slr0214</text></g>
<g id="n-sll0450" class="n" transform="translate(689 683)"><use href="#b"/><text y="3.5">sll0450</text></g>
<g id="n-slr1734" class="n" transform="translate(761 691)"><use href="#b"/><text y="3.5">slr1734</text></g>
<g id="n-slr0565" class="n" transform="translate(855 695)"><use href="#b"/><text y="3.5">slr0565</text></g>
<g id="n-sll1501" class="n" transform="translate(630 697)"><use href="#b"/><text y="3.5">sll1501</text></g>
<g id="n-sll0362" class="n" transform="translate(525 696)"><use href="#b"/><text y="3.5">sll0362</text></g>
<g id="n-sll0011" class="n" transform="translate(812 709)"><use href="#b"/><text y="3.5">sll0011</text></g>
<g id="n-sll1899" class="n" transform="translate(523 723)"><use href="#b"/><text y="3.5">sll1899</text></g>
<g id="n-slr1719" class="n" transform="translate(730 728)"><use href="#b"/><text y="3.5">slr1719</text></g>
<g id="n-sll1511" class="n" transform="translate(422 548)"><use href="#b"/><text y="3.5">sll1511</text></g>
<g id="n-sll1553" class="n" transform="translate(470 551)"><use href="#b"/><text y="3.5">sll1553</text></g>
<g id="n-slr1028" class="n" transform="translate(395 569)"><use href="#b"/><text y="3.5">slr1028</text></g>
<g id="n-slr2111" class="n" transform="translate(441 577)"><use href="#b"/><text y="3.5">slr2111</text></g>
<g id="n-slr0408" class="n" transform="translate(364 589)"><use href="#b"/><text y="3.5">slr0408</text></g>
<g id="n-slr0366" class="n" transform="translate(400 606)"><use href="#b"/><text y="3.5">slr0366</text></g>
<g id="n-sll1268" class="n" transform="translate(480 602)"><use href="#b"/><text y="3.5">sll1268</text></g>
<g id="n-sll0864" class="n" transform="translate(374 629)"><use href="#b"/><text y="3.5">sll0864</text></g>
<g id="n-slr0364" class="n k e" transform="translate(461 631)"><use href="#b"/><text y="3.5">slr0364</text></g>
<g id="n-slr1966" class="n" transform="translate(361 656)"><use href="#b"/><text y="3.5">slr1966</text></g>
<g id="n-sll1898" class="n" transform="translate(413 649)"><use href="#b"/><text y="3.5">sll1898</text></g>
<g id="n-slr0795" class="n" transform="translate(397 674)"><use href="#b"/><text y="3.5">slr0795</text></g>
<g id="n-slr0899" class="n" transform="translate(474 676)"><use href="#b"/><text y="3.5">slr0899</text></g>
<g id="n-sll0274" class="n" transform="translate(366 694)"><use href="#b"/><text y="3.5">sll0274</text></g>
<g id="n-sll0217" class="n" transform="translate(428 695)"><use href="#b"/><text y="3.5">sll0217</text></g>
<g id="n-slr2046" class="n" transform="translate(477 711)"><use href="#b"/><text y="3.5">slr2046</text></g>
<g id="n-sll1030" class="n" transform="translate(390 717)"><use href="#b"/><text y="3.5">sll1030</text></g>
<g id="n-sll1639" class="n" transform="translate(442 731)"><use href="#b"/><text y="3.5">sll1639</text></g>
<g id="n-sll0427" class="n k w" transform="translate(686 278)"><use href="#b"/><text y="3.5">sll0427</text></g>
<g id="n-sll0851" class="n k w" transform="translate(684 310)"><use href="#b"/><text y="3.5">sll0851</text></g>
<g id="n-slr1835" class="n k m" transform="translate(727 354)"><use href="#b"/><text y="3.5">slr1835</text></g>
<g id="n-sll0819" class="n k m" transform="translate(716 382)"><use href="#b"/><text y="3.5">sll0819</text></g>
<g id="n-slr0737" class="n k m" transform="translate(737 411)"><use href="#b"/><text y="3.5">slr0737</text></g>
<g id="n-slr1643" class="n k e" transform="translate(618 478)"><use href="#b"/><text y="3.5">slr1643</text></g>
<g id="n-slr0335" class="n k y" transform="translate(1022 378)"><use href="#b"/><text y="3.5">slr0335</text></g>
<g id="n-slr1986" class="n k y" transform="translate(979 400)"><use href="#b"/><text y="3.5">slr1986</text></g>
<g id="n-slr2067" class="n k y" transform="translate(963 473)"><use href="#b"/><text y="3.5">slr2067</text></g>
<g id="n-sll0928" class="n k y" transform="translate(1004 499)"><use href="#b"/><text y="3.5">sll0928</text></g>
</g>
<g id="legend">
<rect x="10" y="562" width="323" height="185" fill="#fff" stroke="#333" stroke-width="1.5"/>
<text class="t" x="27" y="590">Propionylated proteins</text>
<rect class="lg y" x="27" y="610" width="11" height="11"/>
<rect class="lg g" x="27" y="631" width="11" height="11"/>
<rect class="lg p" x="27" y="651" width="11" height="11"/>
<rect class="lg e" x="27" y="672" width="11" height="11"/>
<rect class="lg m" x="27" y="692" width="11" height="11"/>
<rect class="lg w" x="27" y="713" width="11" height="11"/>
<text class="t" x="45" y="621">Allophycocyanin</text>
<text class="t" x="45" y="641.5">ATP synthase</text>
<text class="t" x="45" y="662">Phycocyanin</text>
<text class="t" x="45" y="683">Electron transport / Calvin cycle</text>
<text class="t" x="45" y="703">Photosystem I</text>
<text class="t" x="45" y="724">Photosystem II</text>
</g>
</svg>
